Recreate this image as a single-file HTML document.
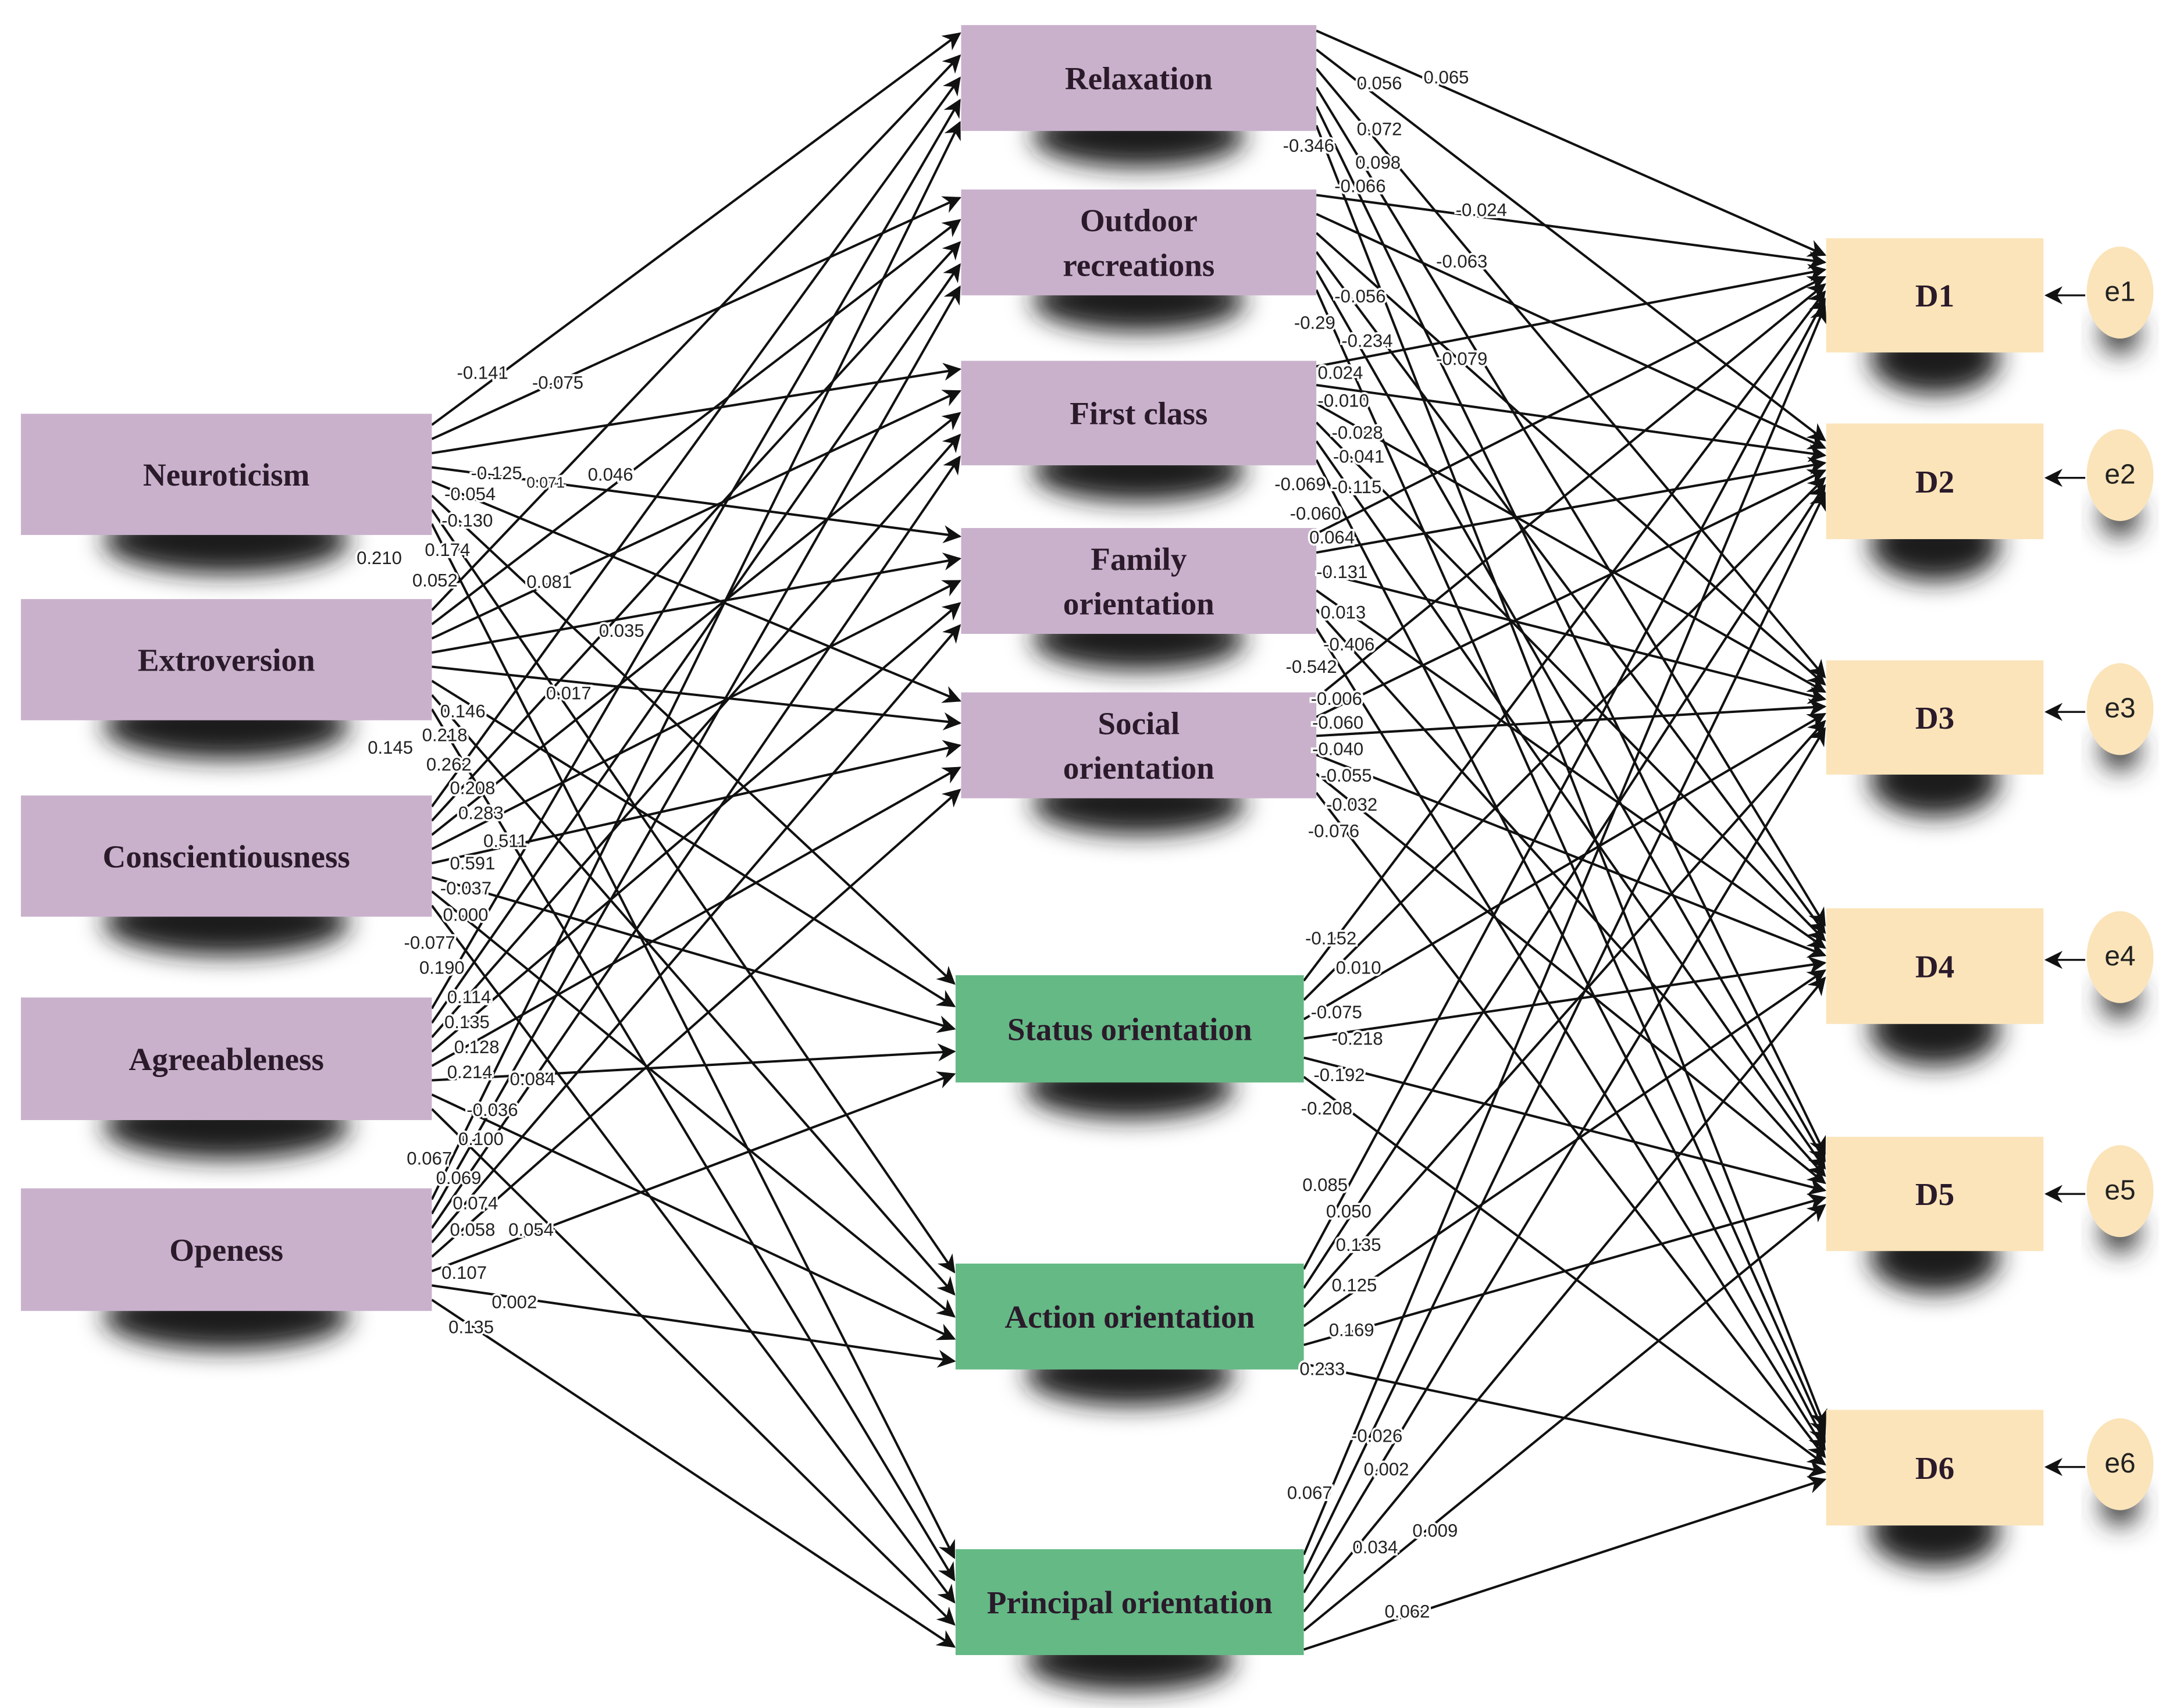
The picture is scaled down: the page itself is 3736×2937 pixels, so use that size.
<!DOCTYPE html>
<html><head><meta charset="utf-8">
<style>
html,body{margin:0;padding:0;background:#fff;}
svg{display:block;}
.bx{font-family:"Liberation Serif",serif;font-weight:bold;font-size:23px;fill:#2a1a2a;text-anchor:middle;}
.lb{font-family:"Liberation Sans Narrow","Liberation Sans",sans-serif;font-size:13px;fill:#222;stroke:#fff;stroke-width:3px;paint-order:stroke;}
.e{font-family:"Liberation Sans",sans-serif;font-size:20px;fill:#222;text-anchor:middle;}
</style></head><body>
<svg id="s" width="3736" height="2937" viewBox="0 0 1560 1226" preserveAspectRatio="none" xmlns="http://www.w3.org/2000/svg">
<defs>
<filter id="bl" x="-50%" y="-100%" width="200%" height="300%"><feGaussianBlur stdDeviation="9"/></filter>
<marker id="ar" viewBox="0 0 10 10" refX="9" refY="5" markerWidth="13" markerHeight="13" markerUnits="userSpaceOnUse" orient="auto">
<path d="M0,0 L10,5 L0,10 L3,5 z" fill="#111"/></marker>
</defs>
<g id="shadows"></g>
<g id="lines" stroke="#111" stroke-width="1.7" fill="none"></g>
<g id="boxes"></g>
<g id="labels">
<text class="lb" x="328" y="272">-0.141</text><text class="lb" x="382" y="279">-0.075</text>
<text class="lb" x="338" y="344">-0.125</text><text class="lb" x="378" y="350" style="font-size:11px">0.071</text><text class="lb" x="422" y="345">0.046</text>
<text class="lb" x="319" y="359">-0.054</text><text class="lb" x="317" y="378">-0.130</text>
<text class="lb" x="256" y="405">0.210</text><text class="lb" x="305" y="399">0.174</text><text class="lb" x="296" y="421">0.052</text>
<text class="lb" x="378" y="422">0.081</text><text class="lb" x="430" y="457">0.035</text><text class="lb" x="392" y="502">0.017</text>
<text class="lb" x="316" y="515">0.146</text><text class="lb" x="303" y="532">0.218</text><text class="lb" x="264" y="541">0.145</text>
<text class="lb" x="306" y="553">0.262</text><text class="lb" x="323" y="570">0.208</text><text class="lb" x="329" y="588">0.283</text>
<text class="lb" x="347" y="608">0.511</text><text class="lb" x="323" y="624">0.591</text><text class="lb" x="316" y="642">-0.037</text>
<text class="lb" x="318" y="661">0.000</text><text class="lb" x="290" y="681">-0.077</text><text class="lb" x="301" y="699">0.190</text>
<text class="lb" x="321" y="720">0.114</text><text class="lb" x="319" y="738">0.135</text><text class="lb" x="326" y="756">0.128</text>
<text class="lb" x="321" y="774">0.214</text><text class="lb" x="366" y="779">0.084</text><text class="lb" x="335" y="801">-0.036</text>
<text class="lb" x="329" y="822">0.100</text><text class="lb" x="292" y="836">0.067</text><text class="lb" x="313" y="850">0.069</text>
<text class="lb" x="325" y="868">0.074</text><text class="lb" x="323" y="887">0.058</text><text class="lb" x="365" y="887">0.054</text>
<text class="lb" x="317" y="918">0.107</text><text class="lb" x="353" y="939">0.002</text><text class="lb" x="322" y="957">0.135</text>

<text class="lb" x="974" y="64">0.056</text><text class="lb" x="1022" y="60">0.065</text><text class="lb" x="974" y="97">0.072</text>
<text class="lb" x="921" y="109">-0.346</text><text class="lb" x="973" y="121">0.098</text><text class="lb" x="958" y="138">-0.066</text>
<text class="lb" x="1045" y="155">-0.024</text><text class="lb" x="1031" y="192">-0.063</text><text class="lb" x="958" y="217">-0.056</text>
<text class="lb" x="929" y="236">-0.29</text><text class="lb" x="963" y="249">-0.234</text><text class="lb" x="1031" y="262">-0.079</text>
<text class="lb" x="946" y="272">0.024</text><text class="lb" x="946" y="292">-0.010</text><text class="lb" x="956" y="315">-0.028</text>
<text class="lb" x="957" y="332">-0.041</text><text class="lb" x="915" y="352">-0.069</text><text class="lb" x="956" y="354">-0.115</text>
<text class="lb" x="926" y="373">-0.060</text><text class="lb" x="940" y="390">0.064</text><text class="lb" x="945" y="415">-0.131</text>
<text class="lb" x="948" y="444">0.013</text><text class="lb" x="950" y="467">-0.406</text><text class="lb" x="923" y="483">-0.542</text>
<text class="lb" x="941" y="506">-0.006</text><text class="lb" x="942" y="523">-0.060</text><text class="lb" x="942" y="542">-0.040</text>
<text class="lb" x="948" y="561">-0.055</text><text class="lb" x="952" y="582">-0.032</text><text class="lb" x="939" y="601">-0.076</text>
<text class="lb" x="937" y="678">-0.152</text><text class="lb" x="959" y="699">0.010</text><text class="lb" x="941" y="731">-0.075</text>
<text class="lb" x="956" y="750">-0.218</text><text class="lb" x="943" y="776">-0.192</text><text class="lb" x="934" y="800">-0.208</text>
<text class="lb" x="935" y="855">0.085</text><text class="lb" x="952" y="874">0.050</text><text class="lb" x="959" y="898">0.135</text>
<text class="lb" x="956" y="927">0.125</text><text class="lb" x="954" y="959">0.169</text><text class="lb" x="933" y="987">0.233</text>
<text class="lb" x="970" y="1035">-0.026</text><text class="lb" x="979" y="1059">0.002</text><text class="lb" x="924" y="1076">0.067</text>
<text class="lb" x="1014" y="1103">0.009</text><text class="lb" x="971" y="1115">0.034</text><text class="lb" x="994" y="1161">0.062</text>
</g>
</svg>
<script>
var NS="http://www.w3.org/2000/svg";
function el(t,a,p){var e=document.createElementNS(NS,t);for(var k in a)e.setAttribute(k,a[k]);p.appendChild(e);return e;}
var P="#c9b1cc",G="#64b985",Y="#fbe4b9";
var L=[[15,297,310,384,"Neuroticism"],[15,430,310,517,"Extroversion"],[15,571,310,658,"Conscientiousness"],[15,716,310,804,"Agreeableness"],[15,853,310,941,"Openess"]];
var M=[[690,18,945,94,["Relaxation"],P],[690,136,945,212,["Outdoor","recreations"],P],[690,259,945,334,["First class"],P],[690,379,945,455,["Family","orientation"],P],[690,497,945,573,["Social","orientation"],P],
[686,700,936,777,["Status orientation"],G],[686,907,936,983,["Action orientation"],G],[686,1112,936,1188,["Principal orientation"],G]];
var D=[[1311,171,1467,253,"D1",210],[1311,304,1467,387,"D2",341],[1311,474,1467,556,"D3",509],[1311,652,1467,735,"D4",687],[1311,816,1467,898,"D5",855],[1311,1012,1467,1095,"D6",1051]];
var sh=document.getElementById("shadows"),ln=document.getElementById("lines"),bx=document.getElementById("boxes");
function shadow(x1,y2,x2,ry){var w=x2-x1;el("ellipse",{cx:(x1+x2)/2,cy:y2+4,rx:w*0.3,ry:ry,fill:"#1a1a1a",filter:"url(#bl)"},sh);}
L.forEach(function(b){shadow(b[0],b[3],b[2],24);});
M.forEach(function(b){shadow(b[0],b[3],b[2],22);});
D.forEach(function(b){shadow(b[0],b[3],b[2],26);el("ellipse",{cx:1522,cy:b[5]+30,rx:14,ry:14,fill:"#333",filter:"url(#bl)"},sh);});
L.forEach(function(s,i){M.forEach(function(t,j){
 var y1=s[1]+8+(s[3]-s[1]-16)*j/7;
 var y2=t[1]+6+(t[3]-t[1]-12)*i/4;
 el("line",{x1:s[2],y1:y1,x2:t[0]-1,y2:y2,"marker-end":"url(#ar)"},ln);});});
M.forEach(function(s,i){D.forEach(function(t,j){
 var y1=s[1]+4+(s[3]-s[1]-8)*j/5;
 var y2=t[1]+12+(t[3]-t[1]-45)*i/7;
 el("line",{x1:s[2],y1:y1,x2:t[0]-1,y2:y2,"marker-end":"url(#ar)"},ln);});});
L.forEach(function(b){el("rect",{x:b[0],y:b[1],width:b[2]-b[0],height:b[3]-b[1],fill:P},bx);
 var t=el("text",{x:(b[0]+b[2])/2,y:(b[1]+b[3])/2+8,"class":"bx"},bx);t.textContent=b[4];});
M.forEach(function(b){el("rect",{x:b[0],y:b[1],width:b[2]-b[0],height:b[3]-b[1],fill:b[5]},bx);
 var cy=(b[1]+b[3])/2;var n=b[4].length;
 b[4].forEach(function(s,k){var t=el("text",{x:(b[0]+b[2])/2,y:cy+8+(k-(n-1)/2)*32,"class":"bx"},bx);t.textContent=s;});});
D.forEach(function(b){el("rect",{x:b[0],y:b[1],width:b[2]-b[0],height:b[3]-b[1],fill:Y},bx);
 var t=el("text",{x:(b[0]+b[2])/2,y:(b[1]+b[3])/2+8,"class":"bx"},bx);t.textContent=b[4];
 el("ellipse",{cx:1522,cy:b[5],rx:24,ry:33,fill:Y},bx);
 var e=el("text",{x:1522,y:b[5]+6,"class":"e"},bx);e.textContent="e"+b[4].slice(1);
 el("line",{x1:1497,y1:b[5]+2,x2:1469,y2:b[5]+2,stroke:"#111","stroke-width":1.4,"marker-end":"url(#ar)"},bx);});
</script>
</body></html>
